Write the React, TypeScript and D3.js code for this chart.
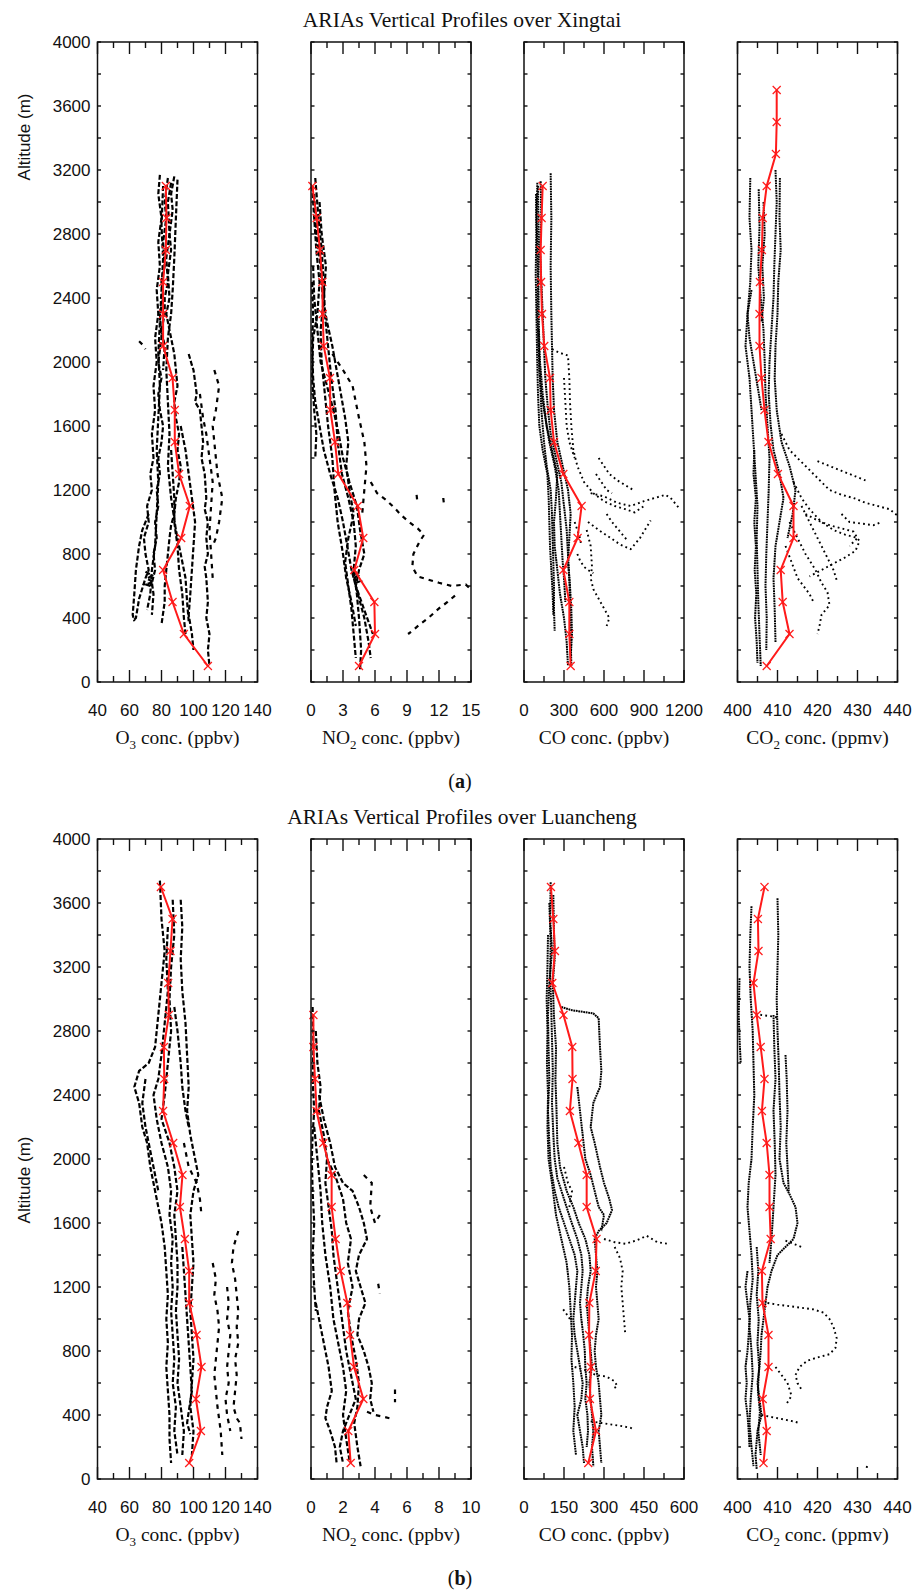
import React from 'react';
import * as d3 from 'd3';

type Pt = [number, number]; // [concentration, altitude in m]

// ---------- mean profiles (red) ----------
const meanAltXingtai = [100, 300, 500, 700, 900, 1100, 1300, 1500, 1700, 1900, 2100, 2300, 2500, 2700, 2900, 3100];
const meanAltXingtaiCO2 = [100, 300, 500, 700, 900, 1100, 1300, 1500, 1700, 1900, 2100, 2300, 2500, 2700, 2900, 3100, 3300, 3500, 3700];
const meanAltLuancheng = [100, 300, 500, 700, 900, 1100, 1300, 1500, 1700, 1900, 2100, 2300, 2500, 2700, 2900, 3100, 3300, 3500, 3700];
const meanAltLuanchengNO2 = [100, 300, 500, 700, 900, 1100, 1300, 1500, 1700, 1900, 2100, 2300, 2500, 2700, 2900];

const o3XingtaiMean = [109, 94, 86.9, 81, 92.3, 97.7, 91, 88.3, 88.3, 86.9, 81, 81, 81, 82.7, 83.1, 82.7];
const no2XingtaiMean = [4.5, 6.0, 5.94, 4.06, 4.9, 4.38, 2.56, 2.25, 1.81, 1.78, 1.19, 1.1, 1.06, 0.84, 0.53, 0.13];
const coXingtaiMean = [350, 340, 340, 295, 402, 432, 295, 225, 200, 195, 152, 135, 128, 125, 132, 140];
const co2XingtaiMean = [407.3, 413, 411.3, 410.8, 414, 414, 410.1, 407.75, 406.75, 406, 405.5, 405.5, 405.6, 406.1, 406.3, 407.3, 409.6, 409.8, 409.8];

const o3LuanchengMean = [97.3, 104.6, 101.5, 105, 101.9, 97.3, 97.3, 94.6, 91.5, 93.1, 87.3, 81, 81.7, 81.5, 84.6, 84.2, 85.6, 86.9, 79.6];
const no2LuanchengMean = [2.48, 2.33, 3.27, 2.69, 2.44, 2.27, 1.85, 1.54, 1.29, 1.29, 0.77, 0.35, 0.25, 0.15, 0.15];
const coLuanchengMean = [241, 270, 247, 251, 244, 245, 269, 272, 235, 235, 204, 172, 182, 181, 148, 106, 116, 110, 101];
const co2LuanchengMean = [406.5, 407.3, 406.3, 407.75, 407.75, 406.25, 406.1, 408.3, 408, 408, 407.3, 406.1, 406.75, 405.8, 404.8, 404, 405.25, 405.1, 406.75];

// ---------- individual flight profiles (black) ----------
const o3XingtaiTraces: Pt[][] = [
  [[79, 3170], [78, 3050], [80, 2900], [78, 2750], [79, 2600], [77, 2450], [78, 2300], [76, 2150], [77, 2000], [75, 1850], [76, 1700], [74, 1550], [75, 1400], [73, 1300], [74, 1200], [71, 1100], [72, 1000], [69, 900], [70, 800], [72, 700], [70, 650], [66, 520], [64, 400], [62, 380]],
  [[84, 3150], [82, 3000], [83, 2900], [81, 2750], [82, 2600], [80, 2500], [81, 2400], [79, 2300], [80, 2150], [78, 2000], [80, 1900], [78, 1800], [79, 1700], [81, 1600], [80, 1500], [78, 1400], [79, 1300], [77, 1200], [78, 1100], [76, 1000], [77, 900], [75, 800], [76, 700], [74, 620], [75, 550], [74, 420]],
  [[88, 3160], [86, 3050], [87, 2950], [85, 2800], [86, 2700], [84, 2550], [85, 2400], [83, 2300], [85, 2200], [88, 2050], [90, 1850], [88, 1750], [89, 1650], [91, 1550], [90, 1450], [92, 1350], [91, 1250], [89, 1150], [88, 1050], [86, 980], [85, 900], [84, 800], [83, 700], [82, 600], [82, 500], [80, 360]],
  [[86, 3120], [84, 3000], [85, 2800], [83, 2650], [84, 2500], [82, 2400], [82, 2300], [80, 2200], [82, 2100], [81, 1950]],
  [[81, 3100], [80, 2850], [81, 2650], [80, 2450], [79, 2250], [78, 2050], [79, 1850], [78, 1650], [77, 1450], [78, 1250], [77, 1050], [76, 850], [74, 700], [73, 550], [71, 450]],
  [[90, 3140], [89, 2900], [88, 2650], [87, 2450], [86, 2300], [84, 2150], [83, 1950], [84, 1750], [85, 1550], [84, 1350], [86, 1150], [89, 950], [92, 800], [95, 650], [96, 500], [97, 380]],
  [[97, 2050], [99, 1980], [100, 1950], [102, 1800], [101, 1750], [104, 1700], [105, 1600], [106, 1500], [105, 1400], [107, 1300], [108, 1150], [107, 1080], [109, 1000], [108, 900], [109, 800], [107, 720], [108, 650], [109, 500], [108, 400], [110, 300], [109, 200], [110, 100]],
  [[92, 1600], [95, 1450], [97, 1300], [99, 1150], [101, 1000], [100, 850], [99, 700], [98, 550], [97, 420], [99, 300], [100, 200]],
  [[72, 1050], [68, 950], [66, 850], [64, 700], [63, 550], [62, 420], [63, 380]],
  [[86, 1450], [87, 1300], [88, 1150], [88, 1000], [90, 850], [91, 700], [93, 550], [94, 400], [95, 300]],
  [[70, 690], [74, 665], [71, 645], [75, 625], [70, 610], [73, 600]],
];
const o3XingtaiScatter: Pt[][] = [
  [[113, 1950], [116, 1850], [114, 1700], [112, 1600], [113, 1500], [115, 1300], [117, 1200], [118, 1150], [116, 1000], [114, 900], [112, 850]],
  [[104, 1800], [106, 1650], [108, 1550], [110, 1400], [112, 1250], [111, 1100], [110, 950], [111, 800], [112, 650]],
  [[66, 2130], [68, 2110], [70, 2080]],
];

const no2XingtaiTraces: Pt[][] = [
  [[0.1, 3100], [0.3, 2900], [0.5, 2700], [0.8, 2500], [0.6, 2300], [0.2, 2150], [0.1, 1900], [0.3, 1700], [0.5, 1550], [0.4, 1400]],
  [[0.4, 3150], [0.7, 2900], [1.0, 2700], [1.2, 2500], [1.3, 2300], [1.6, 2100], [1.9, 1900], [2.3, 1700], [2.5, 1500], [2.9, 1300], [3.5, 1150], [4.0, 1000], [4.2, 850], [4.0, 700], [4.3, 550], [4.5, 400], [4.7, 200], [4.6, 80]],
  [[0.8, 3000], [1.0, 2800], [1.4, 2600], [1.2, 2400], [0.9, 2200], [1.0, 2000], [1.3, 1800], [1.6, 1600], [2.0, 1400], [2.2, 1200], [2.5, 1000], [3.0, 800], [3.3, 650], [3.8, 500], [4.2, 350]],
  [[0.2, 2600], [0.3, 2400], [0.6, 2200], [0.9, 2000], [1.5, 1850], [2.1, 1700], [2.6, 1550], [3.0, 1400], [3.6, 1250], [4.3, 1100], [4.6, 950], [5.0, 800], [4.5, 700], [4.2, 600], [5.0, 450], [5.8, 300]],
  [[0.3, 3050], [0.5, 2800], [0.9, 2600], [1.1, 2400], [1.5, 2250], [2.0, 2100], [2.4, 1950], [2.8, 1800], [3.2, 1650], [3.5, 1500], [3.3, 1350], [3.6, 1200], [4.0, 1050], [3.5, 900], [3.2, 750], [3.5, 600], [3.8, 450], [4.0, 300], [4.2, 150]],
  [[0.1, 2500], [0.2, 2300], [0.1, 2100], [0.2, 1900], [0.4, 1750], [0.8, 1600], [1.2, 1450], [1.8, 1300], [2.5, 1150], [3.0, 1000], [3.4, 850], [3.8, 700], [4.4, 550], [5.0, 400], [5.4, 250], [5.6, 150]],
  [[3.8, 690], [4.4, 665], [3.9, 645], [4.6, 630], [4.0, 615]],
];
const no2XingtaiScatter: Pt[][] = [
  [[2.0, 2050], [3.0, 1950], [3.9, 1850], [4.5, 1650], [5.0, 1500], [5.2, 1350], [5.0, 1200], [4.8, 1050]],
  [[5.6, 1250], [6.2, 1180], [7.0, 1140], [7.8, 1090], [8.5, 1040], [9.2, 1000], [10.0, 960], [10.6, 920], [10.2, 880], [9.6, 800], [9.5, 720], [10.0, 660], [11.0, 640], [12.0, 620], [13.2, 600], [14.5, 610], [14.8, 590]],
  [[13.5, 540], [12.8, 500], [12.0, 460], [11.0, 400], [10.2, 360], [9.5, 320], [9.1, 300]],
  [[9.9, 1170], [9.95, 1140]],
  [[12.4, 1150], [12.45, 1120]],
];

const coXingtaiTraces: Pt[][] = [
  [[100, 3120], [95, 2900], [100, 2700], [105, 2500], [100, 2300], [110, 2100], [120, 1900], [130, 1700], [150, 1500], [170, 1350], [200, 1200], [210, 1050], [215, 900], [220, 750], [225, 600], [225, 450], [230, 320]],
  [[125, 3130], [130, 2900], [120, 2700], [130, 2500], [140, 2300], [150, 2100], [160, 1900], [180, 1700], [200, 1550], [240, 1400], [280, 1250], [300, 1100], [320, 950], [330, 800], [340, 650], [345, 500], [350, 300], [355, 100]],
  [[200, 3180], [205, 2900], [200, 2600], [205, 2300], [210, 2100], [215, 1900], [225, 1700], [250, 1500], [290, 1350], [330, 1200], [350, 1050], [340, 900], [330, 750], [345, 600], [355, 450], [360, 300], [350, 150]],
  [[110, 2200], [115, 1950], [130, 1800], [160, 1650], [190, 1500], [230, 1350], [260, 1200], [270, 1050], [280, 900], [290, 750], [300, 650], [310, 500]],
  [[90, 3050], [92, 2800], [88, 2550], [93, 2300], [98, 2050], [105, 1800], [115, 1600], [140, 1450], [175, 1300], [185, 1150], [190, 1000], [195, 850], [205, 700], [215, 550], [220, 420]],
  [[105, 3100], [110, 2800], [108, 2500], [112, 2200], [120, 2000], [140, 1800], [170, 1600], [210, 1450], [250, 1300], [240, 1150], [225, 1000], [230, 850], [250, 700], [270, 550], [300, 400], [320, 250], [330, 100]],
];
const coXingtaiScatter: Pt[][] = [
  [[210, 2080], [260, 2060], [330, 2040], [340, 1900], [345, 1750], [355, 1600], [370, 1450], [400, 1350], [450, 1250], [520, 1180], [600, 1130], [680, 1100], [760, 1080], [830, 1060], [900, 1100]],
  [[500, 1180], [600, 1160], [700, 1120], [800, 1100], [900, 1130], [980, 1150], [1060, 1170], [1100, 1150], [1170, 1080]],
  [[480, 1000], [560, 950], [650, 900], [720, 860], [800, 830], [870, 900], [950, 1010]],
  [[470, 950], [500, 850], [510, 720], [500, 650], [520, 580], [560, 520], [600, 460], [640, 400], [620, 350]],
  [[300, 1900], [310, 1750], [320, 1600], [340, 1500], [380, 1400]],
  [[560, 1400], [600, 1350], [640, 1300], [700, 1260], [760, 1230], [820, 1200]],
  [[620, 1050], [660, 1000], [700, 960], [740, 920], [780, 880]],
  [[400, 800], [420, 760], [450, 720], [480, 700], [520, 680]],
  [[540, 1300], [580, 1250], [620, 1200], [660, 1180]],
  [[380, 1000], [400, 950], [420, 900], [430, 850]],
];

const co2XingtaiTraces: Pt[][] = [
  [[403.2, 3150], [403.0, 2900], [403.5, 2700], [403.2, 2500], [402.5, 2300], [402.0, 2100], [403.0, 1900], [403.5, 1700], [404.0, 1500], [404.5, 1300], [405.0, 1100], [404.8, 900], [405.0, 700], [405.2, 500], [405.5, 300], [405.8, 100]],
  [[405.3, 3080], [405.5, 2850], [405.2, 2600], [405.8, 2400], [406.5, 2200], [406.8, 2000], [407.0, 1800], [407.5, 1600], [408.0, 1400], [407.8, 1200], [407.5, 1000], [407.2, 800], [407.0, 600], [407.3, 400], [407.2, 200]],
  [[409.5, 3200], [409.8, 3000], [409.5, 2800], [409.2, 2600], [409.0, 2400], [408.5, 2200], [408.0, 2000], [407.8, 1800], [408.3, 1600], [409.0, 1450], [410.5, 1300], [411.5, 1150], [410.5, 1000], [409.5, 850], [409.0, 650], [409.3, 450], [409.5, 250]],
  [[410.6, 3150], [410.5, 2900], [410.8, 2700], [410.2, 2500], [410.0, 2300], [409.5, 2100], [409.3, 1900], [409.8, 1700], [411.0, 1500], [413.0, 1350], [414.5, 1200], [413.8, 1050], [412.5, 900]],
  [[403.5, 2450], [402.5, 2300], [403.0, 2150], [404.0, 2000], [405.0, 1850], [406.0, 1700]],
  [[404.2, 1450], [404.0, 1300], [404.6, 1150], [404.2, 1000], [404.6, 850], [404.3, 700], [404.7, 550], [404.4, 400], [404.8, 250], [405.0, 120]],
  [[406.5, 3000], [406.8, 2800], [406.2, 2600], [406.6, 2400], [406.0, 2250]],
];
const co2XingtaiScatter: Pt[][] = [
  [[411.0, 1550], [413.0, 1450], [415.0, 1400], [417.0, 1350], [419.0, 1300], [421.0, 1250], [423.0, 1200], [426.0, 1170], [429.0, 1150], [432.0, 1120], [435.0, 1100], [438.0, 1080], [440.0, 1040]],
  [[414.0, 1250], [416.0, 1150], [418.0, 1080], [421.0, 1000], [424.0, 950], [427.0, 920], [430.0, 900], [428.0, 850]],
  [[413.0, 1000], [415.0, 900], [417.0, 800], [419.5, 700], [421.0, 620], [422.5, 560], [423.0, 480], [421.0, 420], [420.5, 350], [420.0, 300]],
  [[412.0, 850], [413.5, 750], [415.0, 650], [416.5, 600], [418.0, 550], [419.0, 500]],
  [[417.0, 1050], [420.0, 1010], [423.0, 980], [426.0, 960], [429.0, 940], [430.5, 880], [429.5, 820], [427.0, 780], [424.0, 740], [421.0, 700], [418.0, 660]],
  [[420.0, 1380], [423.0, 1350], [426.0, 1320], [429.0, 1290], [432.0, 1260]],
  [[416.0, 1100], [418.0, 1000], [420.0, 900], [422.0, 800], [424.0, 700], [425.0, 620]],
  [[426.0, 1050], [428.0, 1000], [431.0, 990], [434.0, 980], [436.0, 1000]],
];

const o3LuanchengTraces: Pt[][] = [
  [[79, 3740], [80, 3500], [82, 3300], [80, 3100], [78, 2900], [76, 2700], [72, 2600], [66, 2550], [63, 2450], [66, 2350], [68, 2200], [71, 2100], [73, 1950], [75, 1850], [77, 1750], [80, 1600], [82, 1450], [83, 1300], [84, 1150], [83, 1000], [84, 850], [83, 700], [84, 550], [85, 400], [85, 250], [86, 100]],
  [[87, 3620], [88, 3400], [86, 3200], [85, 3000], [86, 2800], [84, 2600], [82, 2400], [80, 2250], [85, 2100], [88, 1950], [90, 1800], [88, 1650], [89, 1500], [90, 1350], [90, 1200], [89, 1050], [90, 900], [91, 750], [90, 600], [92, 450], [94, 300], [93, 150]],
  [[92, 3620], [93, 3450], [92, 3250], [93, 3050], [95, 2850], [96, 2650], [97, 2450], [96, 2300], [98, 2150], [101, 2000], [103, 1900], [100, 1800], [98, 1650], [99, 1500], [100, 1350], [99, 1200], [98, 1050], [99, 900], [100, 750], [99, 600], [98, 450], [100, 300], [99, 150]],
  [[88, 2950], [90, 2800], [92, 2600], [93, 2450], [95, 2300], [97, 2200]],
  [[93, 1450], [94, 1300], [95, 1150], [96, 1000], [97, 850], [98, 700], [99, 550], [97, 420], [96, 350], [98, 280]],
  [[70, 2500], [68, 2350], [70, 2200], [73, 2050], [76, 1900], [78, 1800]],
  [[84, 3450], [83, 3250], [84, 3050], [82, 2850], [80, 2650], [78, 2500], [75, 2400], [77, 2250], [80, 2100], [84, 1950], [86, 1800], [85, 1650], [87, 1500], [86, 1350], [87, 1200], [86, 1050], [87, 900], [88, 750], [87, 600], [89, 450], [88, 300], [90, 150]],
];
const o3LuanchengScatter: Pt[][] = [
  [[128, 1550], [125, 1450], [124, 1350], [126, 1250], [127, 1150], [128, 1050], [127, 950], [128, 850], [126, 750], [127, 650], [126, 550], [125, 450], [127, 380], [129, 350], [130, 250]],
  [[112, 1350], [114, 1250], [113, 1150], [115, 1050], [116, 950], [115, 850], [114, 750], [113, 650], [114, 550], [115, 450], [117, 300], [118, 150]],
  [[121, 1200], [122, 1100], [121, 1000], [123, 900], [122, 800], [121, 700], [122, 600], [120, 500], [121, 400], [123, 300]],
  [[94, 2100], [97, 1950], [102, 1850], [104, 1750], [105, 1650]],
];

const no2LuanchengTraces: Pt[][] = [
  [[0.1, 2950], [0.15, 2700], [0.1, 2500], [0.2, 2300], [0.1, 2150], [0.05, 2000], [0.1, 1800], [0.2, 1600], [0.1, 1400], [0.2, 1200], [0.3, 1050]],
  [[0.3, 2800], [0.4, 2600], [0.6, 2450], [0.5, 2300], [0.8, 2150], [1.0, 2000], [0.9, 1850], [1.1, 1700], [1.3, 1550], [1.4, 1400], [1.6, 1250], [1.8, 1100], [2.0, 950], [2.2, 800], [2.5, 650], [2.8, 500], [2.4, 400], [2.0, 300], [1.8, 200], [2.0, 100]],
  [[0.5, 2400], [0.8, 2250], [1.2, 2100], [1.5, 1950], [2.0, 1850], [2.6, 1800], [3.0, 1700], [3.3, 1600], [3.5, 1500], [3.0, 1400], [2.8, 1300], [3.1, 1200], [3.4, 1100], [3.0, 1000], [2.9, 900], [3.3, 800], [3.6, 700], [3.8, 600], [3.7, 500], [3.9, 420]],
  [[1.0, 2000], [1.5, 1900], [2.0, 1750], [2.2, 1600], [2.5, 1500], [2.3, 1350], [2.6, 1200], [2.3, 1050], [2.5, 900], [2.8, 750], [3.0, 600], [2.9, 450], [2.7, 350], [2.9, 200], [3.1, 80]],
  [[0.3, 1100], [0.6, 950], [0.8, 850], [1.1, 700], [1.3, 550], [1.0, 450], [0.9, 380], [1.2, 300], [1.5, 200], [1.6, 100]],
  [[0.2, 2200], [0.4, 2000], [0.6, 1800], [0.7, 1600], [0.9, 1400], [1.2, 1200], [1.4, 1000], [1.7, 850], [2.0, 700], [2.2, 550], [2.0, 400], [2.2, 250], [2.4, 120]],
];
const no2LuanchengScatter: Pt[][] = [
  [[3.3, 1900], [3.8, 1850], [3.7, 1700], [4.0, 1600], [4.3, 1650]],
  [[3.5, 420], [4.0, 400], [4.5, 390], [4.9, 380]],
  [[5.25, 560], [5.25, 480]],
  [[4.2, 1220], [4.3, 1160]],
];

const coLuanchengTraces: Pt[][] = [
  [[100, 3730], [98, 3500], [105, 3300], [95, 3100], [90, 2900], [92, 2700], [95, 2500], [90, 2300], [95, 2100], [100, 1950], [115, 1800], [130, 1700], [150, 1600], [170, 1500], [190, 1400], [200, 1300], [195, 1200], [190, 1100], [185, 1000], [190, 900], [200, 800], [210, 700], [220, 600], [215, 500], [200, 400], [210, 300], [220, 200], [225, 100]],
  [[110, 3650], [112, 3450], [115, 3250], [108, 3100], [112, 2900], [120, 2700], [118, 2500], [122, 2300], [125, 2100], [135, 1950], [160, 1800], [185, 1700], [205, 1600], [230, 1500], [245, 1400], [250, 1300], [240, 1200], [235, 1100], [240, 1000], [245, 900], [250, 800], [255, 700], [245, 600], [250, 500], [255, 400], [260, 300], [255, 200], [260, 80]],
  [[140, 2950], [180, 2930], [220, 2920], [260, 2910], [280, 2880], [285, 2700], [290, 2550], [285, 2450], [260, 2350], [250, 2200], [265, 2100], [285, 1950], [300, 1850], [320, 1750], [330, 1680], [310, 1600], [280, 1550], [265, 1500], [270, 1400], [275, 1300], [270, 1200], [275, 1100], [280, 1000], [270, 900], [265, 800], [270, 700], [280, 600], [285, 500], [290, 400], [280, 300], [285, 200], [290, 100]],
  [[200, 2450], [210, 2300], [220, 2150], [230, 2000], [250, 1900], [265, 1800], [280, 1700], [300, 1650], [290, 1550]],
  [[90, 3400], [88, 3200], [85, 3000], [88, 2800], [86, 2600], [90, 2400], [88, 2200], [92, 2000], [105, 1850], [120, 1650], [140, 1500], [160, 1350], [170, 1200], [175, 1050], [180, 900], [178, 750], [185, 600], [190, 450], [185, 300], [195, 150]],
  [[95, 3600], [100, 3350], [98, 3150], [102, 2950], [105, 2750], [108, 2550], [105, 2350], [110, 2150], [115, 2000], [125, 1880], [150, 1750], [175, 1620], [200, 1500], [215, 1400], [220, 1300], [215, 1200], [210, 1100], [215, 1000], [222, 900], [228, 800], [230, 700], [235, 600], [230, 500], [238, 400], [240, 300], [235, 200]],
];
const coLuanchengScatter: Pt[][] = [
  [[300, 1500], [340, 1480], [380, 1470], [420, 1490], [460, 1520], [500, 1480], [540, 1470]],
  [[340, 1450], [360, 1380], [370, 1300], [365, 1200], [370, 1100], [375, 1000], [380, 900]],
  [[190, 700], [230, 680], [270, 650], [310, 640], [340, 610], [350, 580], [330, 560]],
  [[250, 360], [290, 350], [330, 340], [370, 330], [400, 320], [415, 310]],
  [[147, 1060], [160, 1030], [172, 1000]],
  [[150, 1950], [165, 1850], [180, 1800], [170, 1700]],
];

const co2LuanchengTraces: Pt[][] = [
  [[400.5, 3130], [400.3, 2900], [400.6, 2700], [400.8, 2600]],
  [[403.5, 3580], [403.2, 3400], [403.0, 3200], [403.3, 3000], [403.8, 2800], [404.0, 2600], [404.2, 2400], [403.8, 2200], [403.5, 2000], [402.8, 1850], [402.5, 1700], [403.0, 1550], [403.5, 1400], [403.8, 1250], [403.2, 1100], [403.0, 950], [403.5, 800], [403.8, 650], [403.3, 500], [403.0, 350], [403.5, 200], [404.0, 80]],
  [[410.0, 3630], [410.2, 3400], [410.0, 3200], [409.8, 3000], [410.0, 2800], [410.3, 2600], [410.5, 2400], [410.8, 2200], [410.5, 2000], [411.5, 1850], [413.0, 1780], [414.5, 1700], [415.0, 1600], [414.0, 1500], [412.0, 1450], [410.0, 1400], [408.5, 1300], [407.5, 1200], [407.0, 1100], [406.5, 1000], [406.0, 900], [405.8, 800], [405.5, 700], [405.0, 600], [405.5, 500], [406.0, 400], [405.0, 300], [404.5, 150], [404.8, 60]],
  [[409.0, 2900], [409.2, 2700], [409.5, 2500], [409.0, 2300], [409.3, 2100], [409.5, 1900], [409.0, 1700], [408.5, 1500], [408.0, 1350]],
  [[412.0, 2650], [412.3, 2500], [412.5, 2300], [412.2, 2100], [412.5, 1950], [412.8, 1800]],
  [[402.5, 1300], [402.0, 1200], [402.5, 1100], [403.0, 1000], [402.8, 900], [402.5, 800], [402.0, 700], [402.3, 600], [402.0, 500], [402.5, 400], [402.8, 300], [403.0, 200]],
  [[404.8, 1450], [405.2, 1300], [404.8, 1150], [405.3, 1000], [405.0, 850], [405.4, 700], [405.1, 550], [405.6, 420], [405.2, 300], [405.8, 150]],
];
const co2LuanchengScatter: Pt[][] = [
  [[404.5, 2910], [406, 2900], [407.5, 2895], [409, 2890], [410.5, 2880]],
  [[407.5, 1100], [410, 1090], [413, 1080], [416, 1070], [419, 1060], [421.5, 1040], [423, 1000], [424, 950], [424.8, 880], [424.5, 820], [423, 780], [420, 760], [417.5, 740], [415.5, 700], [414.5, 650], [415, 600], [416, 560]],
  [[406.0, 400], [408.0, 390], [410.0, 380], [412.0, 370], [414.0, 360], [415.5, 350]],
  [[412.0, 1490], [414.0, 1470], [416.0, 1450]],
  [[409.5, 700], [411.0, 650], [412.5, 600], [413.5, 520], [412.0, 460]],
  [[432.3, 70], [432.4, 85]],
];

// ---------- axes ----------
const altTicks = d3.range(0, 4001, 200);
const altLabels = d3.range(0, 4001, 400);

const o3Ticks = [40, 60, 80, 100, 120, 140];
const no2XingtaiTicks = [0, 3, 6, 9, 12, 15];
const coXingtaiTicks = [0, 300, 600, 900, 1200];
const co2Ticks = [400, 410, 420, 430, 440];
const no2LuanchengTicks = [0, 2, 4, 6, 8, 10];
const coLuanchengTicks = [0, 150, 300, 450, 600];

type Species = { main: string; sub?: string; unit: string };
const speciesO3: Species = { main: 'O', sub: '3', unit: '(ppbv)' };
const speciesNO2: Species = { main: 'NO', sub: '2', unit: '(ppbv)' };
const speciesCO: Species = { main: 'CO', unit: '(ppbv)' };
const speciesCO2: Species = { main: 'CO', sub: '2', unit: '(ppmv)' };

type PanelDef = {
  ticks: number[];
  species: Species;
  kind: 'dash' | 'dot';
  traces: Pt[][];
  scatter: Pt[][];
  meanAlt: number[];
  meanVal: number[];
};

const xingtaiPanels: PanelDef[] = [
  { ticks: o3Ticks, species: speciesO3, kind: 'dash', traces: o3XingtaiTraces, scatter: o3XingtaiScatter, meanAlt: meanAltXingtai, meanVal: o3XingtaiMean },
  { ticks: no2XingtaiTicks, species: speciesNO2, kind: 'dash', traces: no2XingtaiTraces, scatter: no2XingtaiScatter, meanAlt: meanAltXingtai, meanVal: no2XingtaiMean },
  { ticks: coXingtaiTicks, species: speciesCO, kind: 'dot', traces: coXingtaiTraces, scatter: coXingtaiScatter, meanAlt: meanAltXingtai, meanVal: coXingtaiMean },
  { ticks: co2Ticks, species: speciesCO2, kind: 'dot', traces: co2XingtaiTraces, scatter: co2XingtaiScatter, meanAlt: meanAltXingtaiCO2, meanVal: co2XingtaiMean },
];
const luanchengPanels: PanelDef[] = [
  { ticks: o3Ticks, species: speciesO3, kind: 'dash', traces: o3LuanchengTraces, scatter: o3LuanchengScatter, meanAlt: meanAltLuancheng, meanVal: o3LuanchengMean },
  { ticks: no2LuanchengTicks, species: speciesNO2, kind: 'dash', traces: no2LuanchengTraces, scatter: no2LuanchengScatter, meanAlt: meanAltLuanchengNO2, meanVal: no2LuanchengMean },
  { ticks: coLuanchengTicks, species: speciesCO, kind: 'dot', traces: coLuanchengTraces, scatter: coLuanchengScatter, meanAlt: meanAltLuancheng, meanVal: coLuanchengMean },
  { ticks: co2Ticks, species: speciesCO2, kind: 'dot', traces: co2LuanchengTraces, scatter: co2LuanchengScatter, meanAlt: meanAltLuancheng, meanVal: co2LuanchengMean },
];

// ---------- layout ----------
const W = 920;
const H = 1591;
const PW = 160;
const PH = 640;
const panelLeft = [97.5, 311, 524, 737.5];
const SANS = '"Liberation Sans", Arial, sans-serif';
const SERIF = '"Liberation Serif", "Times New Roman", serif';
const INK = '#111';

function Panel({ def, x0, y0, showAlt }: { def: PanelDef; x0: number; y0: number; showAlt: boolean }) {
  const dom = [def.ticks[0], def.ticks[def.ticks.length - 1]];
  const x = d3.scaleLinear().domain(dom).range([x0, x0 + PW]);
  const y = d3.scaleLinear().domain([0, 4000]).range([y0 + PH, y0]);
  const line = d3.line<Pt>().x((d) => x(d[0])).y((d) => y(d[1]));
  const step = def.ticks[1] - def.ticks[0];
  const minor = def.ticks.slice(0, -1).map((t) => t + step / 2);
  const mean: Pt[] = def.meanAlt.map((a, i) => [def.meanVal[i], a]);
  const bottom = y0 + PH;

  // dense profiles vs. sparse, scattered excursions
  const traceStyle =
    def.kind === 'dash'
      ? { strokeWidth: 2.2, dash: '5 2.2' }
      : { strokeWidth: 2, dash: '1.8 0.7' };
  const scatterStyle =
    def.kind === 'dash'
      ? { strokeWidth: 2.2, dash: '4.5 5' }
      : { strokeWidth: 1.9, dash: '1.8 3.2' };

  const sp = def.species;
  return (
    <g>
      <g fill="none" stroke="#000">
        {def.traces.map((t, i) => (
          <path key={'t' + i} d={line(t) || ''} strokeWidth={traceStyle.strokeWidth} strokeDasharray={traceStyle.dash} />
        ))}
        {def.scatter.map((t, i) => (
          <path key={'s' + i} d={line(t) || ''} strokeWidth={scatterStyle.strokeWidth} strokeDasharray={scatterStyle.dash} />
        ))}
      </g>
      <path d={line(mean) || ''} fill="none" stroke="#ff1a1a" strokeWidth={2} />
      <g stroke="#ff1a1a" strokeWidth={1.2}>
        {mean.map((d, i) => {
          const cx = x(d[0]);
          const cy = y(d[1]);
          const r = 4;
          return (
            <g key={i}>
              <line x1={cx - r} y1={cy - r} x2={cx + r} y2={cy + r} />
              <line x1={cx - r} y1={cy + r} x2={cx + r} y2={cy - r} />
            </g>
          );
        })}
      </g>
      {/* frame */}
      <rect x={x0} y={y0} width={PW} height={PH} fill="none" stroke={INK} strokeWidth={1.5} />
      {/* concentration ticks, top and bottom */}
      <g stroke={INK} strokeWidth={1.4}>
        {def.ticks.map((t) => (
          <g key={'M' + t}>
            <line x1={x(t)} x2={x(t)} y1={bottom} y2={bottom - 12} />
            <line x1={x(t)} x2={x(t)} y1={y0} y2={y0 + 12} />
          </g>
        ))}
        {minor.map((t) => (
          <g key={'m' + t}>
            <line x1={x(t)} x2={x(t)} y1={bottom} y2={bottom - 6} />
            <line x1={x(t)} x2={x(t)} y1={y0} y2={y0 + 6} />
          </g>
        ))}
        {altTicks.map((a) => (
          <g key={'a' + a}>
            <line x1={x0} x2={x0 + 3.5} y1={y(a)} y2={y(a)} />
            <line x1={x0 + PW} x2={x0 + PW - 3.5} y1={y(a)} y2={y(a)} />
          </g>
        ))}
      </g>
      <g fontFamily={SANS} fontSize={17} fill={INK} textAnchor="middle">
        {def.ticks.map((t) => (
          <text key={'l' + t} x={x(t)} y={bottom + 34}>
            {t}
          </text>
        ))}
      </g>
      {showAlt && (
        <g fontFamily={SANS} fontSize={17} fill={INK} textAnchor="end">
          {altLabels.map((a) => (
            <text key={'al' + a} x={x0 - 7} y={y(a)} dy="0.36em">
              {a}
            </text>
          ))}
        </g>
      )}
      <text x={x0 + PW / 2} y={bottom + 62} textAnchor="middle" fontFamily={SERIF} fontSize={19.5} fill={INK}>
        <tspan>{sp.main}</tspan>
        {sp.sub && (
          <tspan dy={5} fontSize={13}>
            {sp.sub}
          </tspan>
        )}
        <tspan dy={sp.sub ? -5 : 0}>{' conc. ' + sp.unit}</tspan>
      </text>
    </g>
  );
}

function Figure({ panels, top, title, tag, altLabelY }: { panels: PanelDef[]; top: number; title: string; tag: string; altLabelY: number }) {
  return (
    <g>
      <text x={462} y={top - 15} textAnchor="middle" fontFamily={SERIF} fontSize={21.5} fill={INK}>
        {title}
      </text>
      {panels.map((p, i) => (
        <Panel key={i} def={p} x0={panelLeft[i]} y0={top} showAlt={i === 0} />
      ))}
      <text
        transform={`translate(30,${altLabelY}) rotate(-90)`}
        textAnchor="middle"
        fontFamily={SANS}
        fontSize={17}
        fill={INK}
      >
        Altitude (m)
      </text>
      <text x={460} y={top + PH + 106} textAnchor="middle" fontFamily={SERIF} fontSize={20} fill={INK}>
        <tspan>(</tspan>
        <tspan fontWeight="bold">{tag}</tspan>
        <tspan>)</tspan>
      </text>
    </g>
  );
}

export default function App() {
  return (
    <div style={{ position: 'absolute', left: 0, top: 0, width: W, height: H, background: '#fff' }}>
      <svg width={W} height={H} viewBox={`0 0 ${W} ${H}`} style={{ display: 'block' }}>
        <rect width={W} height={H} fill="#fff" />
        <Figure panels={xingtaiPanels} top={42} title="ARIAs Vertical Profiles over Xingtai" tag="a" altLabelY={137} />
        <Figure panels={luanchengPanels} top={839} title="ARIAs Vertical Profiles over Luancheng" tag="b" altLabelY={1180} />
      </svg>
    </div>
  );
}
